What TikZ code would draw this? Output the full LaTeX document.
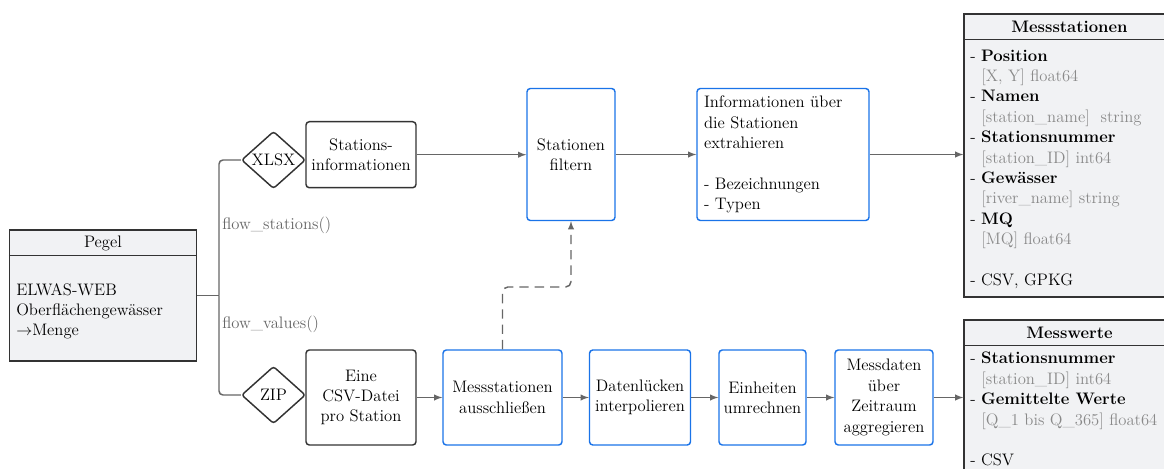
\documentclass[tikz,border=0pt]{standalone}
\usepackage{amsmath, amssymb}
\usepackage{tikz}
\usetikzlibrary{arrows}
\usetikzlibrary{calc}
\usetikzlibrary{positioning}
\usetikzlibrary{shapes.geometric}

\definecolor{boxblue}{HTML}{1A73E8}
\definecolor{boxdark}{HTML}{333333}
\definecolor{linegray}{HTML}{666666}
\definecolor{typegray}{HTML}{8A8A8A}
\definecolor{tablefill}{HTML}{F1F2F4}

\newcommand{\typ}[1]{\hspace*{0.667em}\textcolor{typegray}{#1}}

\begin{document}
\begin{tikzpicture}[
  x=0.75pt, y=-0.75pt,
  font=\fontsize{12.5pt}{15.3pt}\selectfont,
  > = latex,
  procbox/.style = {draw=boxblue, line width=1.1pt, rounded corners=2.5pt, align=center, inner sep=1pt},
  filebox/.style = {draw=boxdark, line width=1.1pt, rounded corners=2.5pt, align=center, inner sep=1pt},
  format/.style = {diamond, draw=boxdark, line width=1.1pt, rounded corners=2pt, inner sep=0pt, aspect=1.1, minimum width=48pt, minimum height=43pt},
  table/.style = {draw=boxdark, fill=tablefill, line width=1pt},
  rule/.style = {draw=boxdark, line width=1pt},
  line/.style = {draw=linegray, line width=1.1pt},
  fnlabel/.style = {text=linegray, inner sep=0pt}
  ]
	\useasboundingbox (0,0) rectangle (1164,468);
	\clip (0,0) rectangle (1164,468);

	% Quelle
	\node[table, minimum width=140.25pt, minimum height=98.25pt] (pegel) at (103,295.5) {};
	\draw[rule] ($(pegel.north west)+(0,26)$) -- ($(pegel.north east)+(0,26)$);
	\node (pegeltitle) at (103,243) {Pegel};
	\node[anchor=north west, align=left, inner sep=0pt] (pegeltext) at (16,283) {ELWAS-WEB\\Oberflächengewässer\\$\rightarrow$Menge};

	\coordinate (@split) at (219,295.5);
	\node[format] (xlsx) at (273.5,160) {XLSX};
	\node[format] (zip) at (273.5,395) {ZIP};

	\draw[line] (pegel.east) -- (@split);
	\draw[line, rounded corners=3pt] (@split) |- (xlsx.west);
	\draw[line, rounded corners=3pt] (@split) |- (zip.west);
	\node[fnlabel, anchor=west] (flowst) at (222,225) {flow\_stations()};
	\node[fnlabel, anchor=west] (flowval) at (222,324) {flow\_values()};

	% oberer Zweig
	\node[filebox, minimum width=82.5pt, minimum height=49.5pt] (stinfo) at (361,154.7) {Stations-\\informationen};
	\node[procbox, minimum width=66pt, minimum height=99pt] (filter) at (571,154.5) {Stationen\\filtern};
	\node[procbox, minimum width=129pt, minimum height=99pt, text width=118.5pt, align=left, inner xsep=5.25pt] (extract) at (783,154.5)
		{Informationen über\\die Stationen\\extrahieren\\\mbox{}\\- Bezeichnungen\\- Typen};

	\node[table, minimum width=158.25pt, minimum height=212.25pt] (stations) at (1069.5,155.5) {};
	\draw[rule] ($(stations.north west)+(0,26)$) -- ($(stations.north east)+(0,26)$);
	\node[font=\fontsize{12.5pt}{15.3pt}\selectfont\bfseries] (stationstitle) at (1069.5,27) {Messstationen};
	\node[anchor=north west, align=left, inner sep=0pt] (stationsattr) at (970,49.3) {%
		- \textbf{Position}\\
		\typ{[X, Y] float64}\\
		- \textbf{Namen}\\
		\typ{[station\_name]\ \ string}\\
		- \textbf{Stationsnummer}\\
		\typ{[station\_ID] int64}\\
		- \textbf{Gewässer}\\
		\typ{[river\_name] string}\\
		- \textbf{MQ}\\
		\typ{[MQ] float64}\\
		\mbox{}\\
		- CSV, GPKG};

	\draw[line, ->] (stinfo.east) -- (stinfo.east -| filter.west);
	\draw[line, ->] (filter) -- (extract);
	\draw[line, ->] (extract.east) -- (extract.east -| stations.west);

	% unterer Zweig
	\node[filebox, minimum width=82.5pt, minimum height=71.25pt] (csv) at (361,397.5) {Eine\\CSV-Datei\\pro Station};
	\node[procbox, minimum width=89.25pt, minimum height=71.25pt] (exclude) at (502.5,397.5) {Messstationen\\ausschließen};
	\node[procbox, minimum width=75.75pt, minimum height=71.25pt] (interp) at (640,397.5) {Datenlücken\\interpolieren};
	\node[procbox, minimum width=65.25pt, minimum height=71.25pt] (convert) at (762.5,397.5) {Einheiten\\umrechnen};
	\node[procbox, minimum width=73.5pt, minimum height=71.25pt] (aggr) at (884,397.5) {Messdaten\\über\\Zeitraum\\aggregieren};

	\node[table, minimum width=158.25pt, minimum height=120pt] (values) at (1069.5,400) {};
	\draw[rule] ($(values.north west)+(0,26)$) -- ($(values.north east)+(0,26)$);
	\node[font=\fontsize{12.5pt}{15.3pt}\selectfont\bfseries] (valuestitle) at (1069.5,333) {Messwerte};
	\node[anchor=north west, align=left, inner sep=0pt] (valuesattr) at (970,352) {%
		- \textbf{Stationsnummer}\\
		\typ{[station\_ID] int64}\\
		- \textbf{Gemittelte Werte}\\
		\typ{[Q\_1 bis Q\_365] float64}\\
		\mbox{}\\
		- CSV};

	\draw[line, ->] (csv) -- (exclude);
	\draw[line, ->] (exclude) -- (interp);
	\draw[line, ->] (interp) -- (convert);
	\draw[line, ->] (convert) -- (aggr);
	\draw[line, ->] (aggr.east) -- (aggr.east -| values.west);

	\coordinate (@bend) at (537,287);
	\draw[line, ->, dash pattern=on 7pt off 4.5pt, rounded corners=4pt] (exclude.north) |- (@bend) -| (filter.south);

\end{tikzpicture}
\end{document}
